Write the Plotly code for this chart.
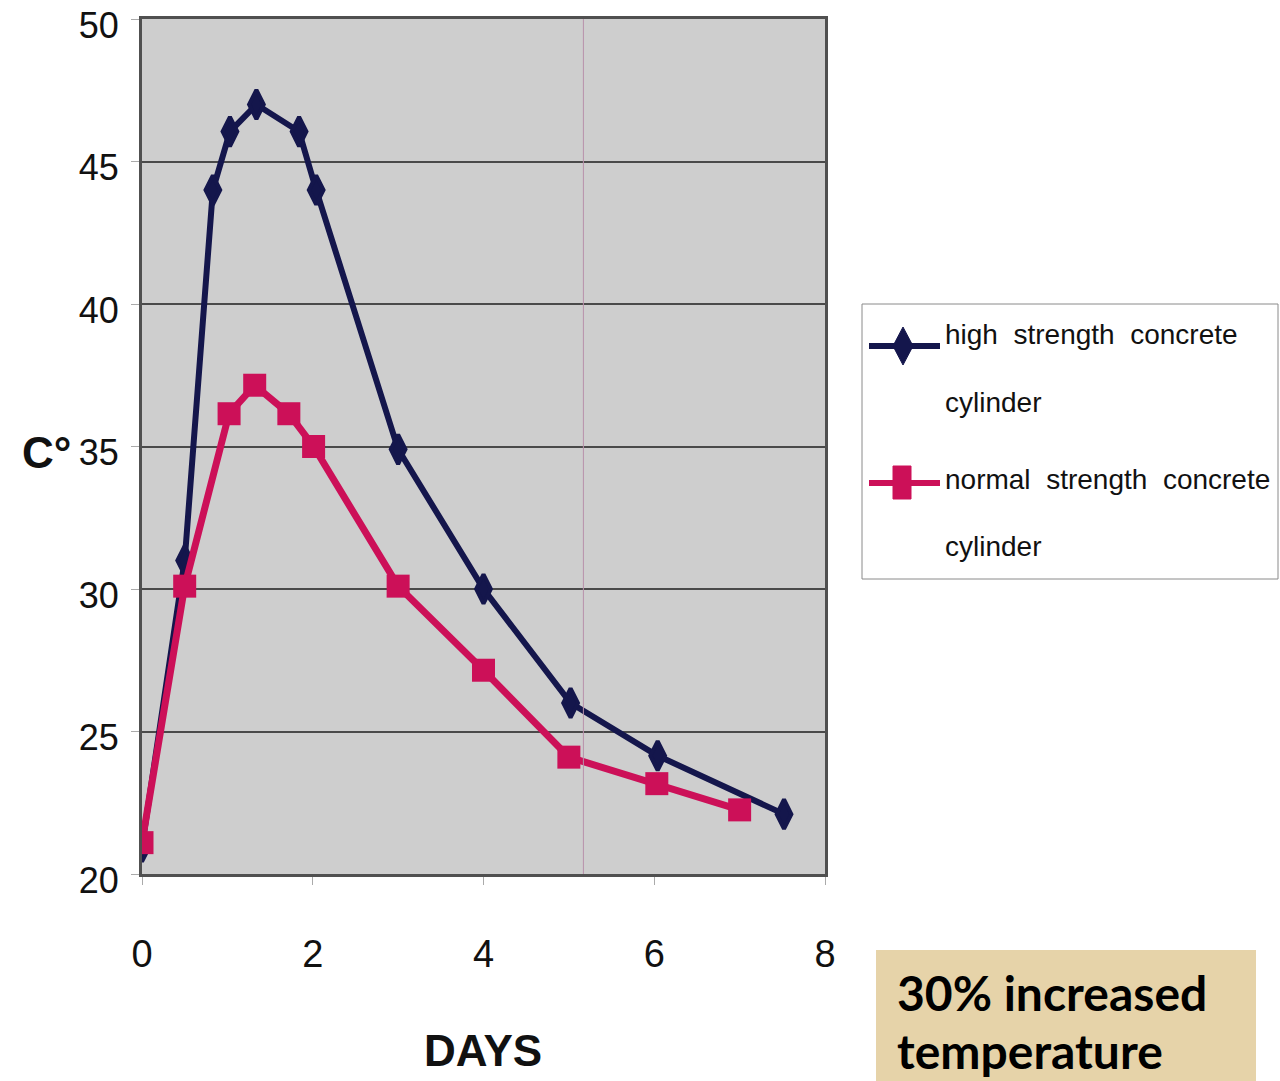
import plotly.graph_objects as go

# Temperature development of concrete cylinders during curing
days_high = [0, 0.5, 0.83, 1.03, 1.34, 1.84, 2.04, 3.0, 4.0, 5.02, 6.04, 7.52]
temp_high = [20.95, 31.0, 44.0, 46.05, 47.0, 46.05, 44.0, 34.9, 30.0, 26.0, 24.15, 22.1]

days_normal = [0, 0.5, 1.02, 1.32, 1.72, 2.01, 3.0, 4.0, 5.0, 6.03, 7.0]
temp_normal = [21.1, 30.1, 36.15, 37.15, 36.15, 35.0, 30.1, 27.15, 24.1, 23.17, 22.25]

x_ticks = [0, 2, 4, 6, 8]
y_ticks = [20, 25, 30, 35, 40, 45, 50]

label_high = ["high strength concrete", "cylinder"]
label_normal = ["normal strength concrete", "cylinder"]

NAVY = "#14164c"
CRIMSON = "#cc1058"
SANS = "Liberation Sans, Arial, sans-serif"

# plot area in pixels (used to place the side legend and note box)
L, R, T, B = 142, 825, 19, 874
W, H = R - L, B - T


def px(x):
    return (x - L) / W


def py(y):
    return (B - y) / H


def spaced(text):
    # the legend labels are set with wide word gaps
    return text.replace(" ", " \u00a0")


fig = go.Figure()
fig.add_trace(go.Scatter(
    x=days_high, y=temp_high, mode="lines+markers",
    name=" ".join(label_high), showlegend=False,
    line=dict(color=NAVY, width=6),
    marker=dict(symbol="diamond-tall", size=21, color=NAVY, line=dict(color=NAVY, width=4)),
))
fig.add_trace(go.Scatter(
    x=days_normal, y=temp_normal, mode="lines+markers",
    name=" ".join(label_normal), showlegend=False,
    line=dict(color=CRIMSON, width=7),
    marker=dict(symbol="square", size=23, color=CRIMSON),
))

# faint vertical line across the plot area
fig.add_vline(x=5.17, line=dict(color="#b890aa", width=1))

fig.update_xaxes(
    range=[0, 8], tickvals=x_ticks, showgrid=False, zeroline=False,
    showline=True, mirror=True, linecolor="#505050", linewidth=3,
    ticks="outside", ticklen=8, tickcolor="#aaaaaa", tickwidth=1,
    ticklabelstandoff=36, ticklabeloverflow="allow", automargin=False,
    tickfont=dict(family=SANS, size=38, color="#111111"),
)
fig.update_yaxes(
    range=[20, 50], tickvals=y_ticks, showgrid=True, gridcolor="#4a4a4a", gridwidth=2,
    zeroline=False, showline=True, mirror=True, linecolor="#505050", linewidth=3,
    ticks="outside", ticklen=8, tickcolor="#aaaaaa", tickwidth=1,
    ticklabelstandoff=5, ticklabelshift=6, ticklabeloverflow="allow", automargin=False,
    tickfont=dict(family=SANS, size=36, color="#111111"),
)

fig.add_annotation(
    text="C°", xref="paper", yref="paper", x=px(46), y=py(452),
    showarrow=False, xanchor="center", yanchor="middle",
    font=dict(family=SANS, size=44, color="#111111", weight="bold"),
)
fig.add_annotation(
    text="DAYS", xref="paper", yref="paper", x=px(483), y=py(1050),
    showarrow=False, xanchor="center", yanchor="middle",
    font=dict(family=SANS, size=44, color="#111111", weight="bold"),
)

# side legend: framed box, line samples with markers, and two-line labels
fig.add_shape(
    type="rect", xref="paper", yref="paper",
    x0=px(862), x1=px(1278), y0=py(579), y1=py(304),
    fillcolor="white", line=dict(color="#8a8a8a", width=1),
)
for y_line, color in ((346, NAVY), (483, CRIMSON)):
    fig.add_shape(
        type="line", xref="paper", yref="paper",
        x0=px(869), x1=px(940), y0=py(y_line), y1=py(y_line),
        line=dict(color=color, width=6),
    )
cx, cy = px(903), py(346)
dx, dy = 10 / W, 19 / H
fig.add_shape(
    type="path", xref="paper", yref="paper",
    path=f"M {cx - dx} {cy} L {cx} {cy + dy} L {cx + dx} {cy} L {cx} {cy - dy} Z",
    fillcolor=NAVY, line=dict(color=NAVY, width=1),
)
fig.add_shape(
    type="rect", xref="paper", yref="paper",
    x0=px(893), x1=px(911), y0=py(499), y1=py(466),
    fillcolor=CRIMSON, line=dict(color=CRIMSON, width=1),
)
for text, y_text in zip(label_high + label_normal, (334, 402, 479, 547)):
    fig.add_annotation(
        text=spaced(text), xref="paper", yref="paper", x=px(943), y=py(y_text),
        showarrow=False, xanchor="left", yanchor="middle",
        font=dict(family=SANS, size=28, color="#111111"),
    )

# highlighted note box in the lower right
fig.add_shape(
    type="rect", xref="paper", yref="paper",
    x0=px(876), x1=px(1256), y0=py(1100), y1=py(950),
    fillcolor="#e6d3a9", line=dict(width=0), layer="below",
)
for text, y_text in (("30% increased", 992), ("temperature", 1050)):
    fig.add_annotation(
        text=text, xref="paper", yref="paper", x=px(895), y=py(y_text),
        showarrow=False, xanchor="left", yanchor="middle",
        font=dict(family="Lato, Open Sans, sans-serif", size=48, color="#000000", weight="bold"),
    )

fig.update_layout(
    width=1280, height=1081,
    margin=dict(l=L, r=1280 - R, t=T, b=1081 - B, autoexpand=False),
    paper_bgcolor="white", plot_bgcolor="#cecece",
    showlegend=False,
)

fig.write_html("out.html")
